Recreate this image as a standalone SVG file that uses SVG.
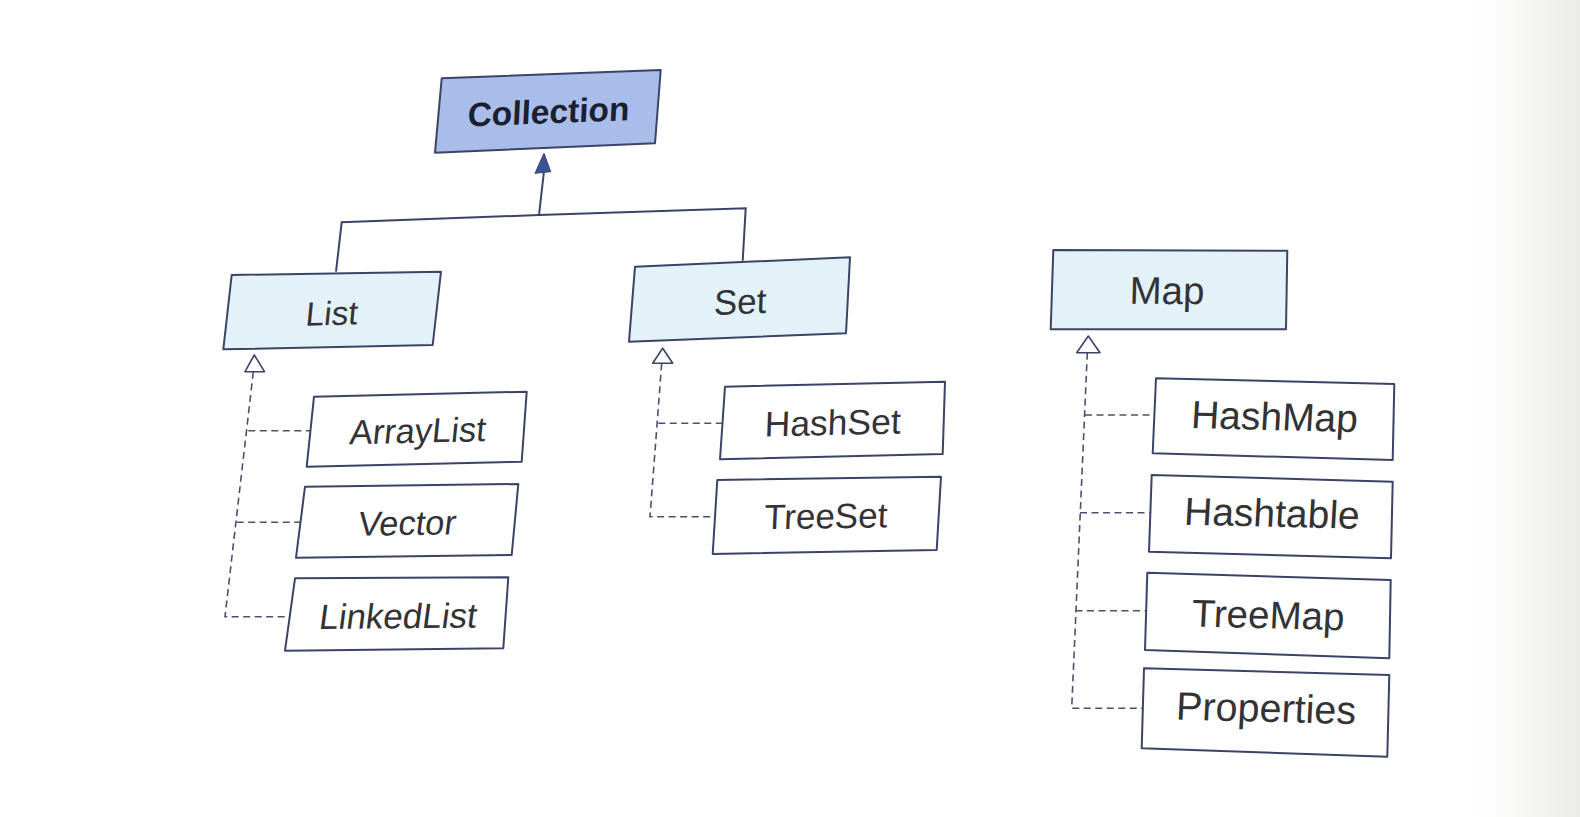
<svg xmlns="http://www.w3.org/2000/svg" width="1580" height="817" viewBox="0 0 1580 817">
<defs>
<linearGradient id="edge" x1="0" y1="0" x2="1" y2="0">
<stop offset="0" stop-color="#ffffff" stop-opacity="0"/>
<stop offset="0.5" stop-color="#f7f7f5" stop-opacity="1"/>
<stop offset="1" stop-color="#ebebe8" stop-opacity="1"/>
</linearGradient>
<style>
.box{stroke:#3b4466;stroke-width:2;stroke-linejoin:round}
.top{fill:#a9bdea}
.iface{fill:#e3f2f8}
.cls{fill:#ffffff}
.t{font-family:"Liberation Sans",Arial,Helvetica,sans-serif;fill:#333336;text-anchor:middle}
.tb{font-family:"Liberation Sans",Arial,Helvetica,sans-serif;fill:#1b2030;text-anchor:middle;font-weight:bold}
.solid{fill:none;stroke:#3b4466;stroke-width:2}
.dash{fill:none;stroke:#4a5170;stroke-width:1.6;stroke-dasharray:7 4.5}
.hollow{fill:#ffffff;stroke:#3b4466;stroke-width:1.6;stroke-linejoin:round}
.filled{fill:#3a5199;stroke:#3b4466;stroke-width:1}
</style>
</defs>
<rect width="1580" height="817" fill="#ffffff"/>
<rect x="1460" y="0" width="120" height="817" fill="url(#edge)"/>

<g id="connectors">
<polyline class="solid" points="336,271.7 341.7,222.3 539,215 745.7,208.3 742.7,260.7"/>
<line class="solid" x1="539" y1="215" x2="544" y2="171"/>
<polygon class="filled" points="544,153.3 535,173.3 550.7,171.7"/>
<polyline class="dash" points="253.3,372 225,616.7 288,616.7"/>
<line class="dash" x1="248.3" y1="430.7" x2="310" y2="430.7"/>
<line class="dash" x1="236.7" y1="522.3" x2="300" y2="522.3"/>
<polygon class="hollow" points="254.3,355 245,371.7 264.5,371.7"/>
<polyline class="dash" points="661.7,363.3 650,516.7 715,516.7"/>
<line class="dash" x1="658.3" y1="423.3" x2="721.7" y2="423.3"/>
<polygon class="hollow" points="662.7,348.3 652.7,363.3 672.7,363.3"/>
<polyline class="dash" points="1087.3,352.7 1071.7,708.3 1142,708.3"/>
<line class="dash" x1="1085" y1="415" x2="1155" y2="415"/>
<line class="dash" x1="1080" y1="512.7" x2="1150" y2="512.7"/>
<line class="dash" x1="1075.5" y1="610.7" x2="1147" y2="610.7"/>
<polygon class="hollow" points="1088.3,336 1076.7,352.7 1100,352.7"/>
</g>

<g id="node-collection">
<polygon class="box top" points="441.7,78.3 660.7,70 655,143.3 435,152.7"/>
<text class="tb" font-size="33.5" transform="translate(548,123.3) rotate(-2.2) skewX(-5)">Collection</text>
</g>

<g id="node-list">
<polygon class="box iface" points="231.7,275 441,271.7 432.7,345 223.3,349.3"/>
<text class="t" font-size="33.5" transform="translate(330.8,325) rotate(-1.4) skewX(-7)">List</text>
</g>
<g id="node-arraylist">
<polygon class="box cls" points="314,396.7 526.7,391.7 521.7,461.7 306.7,466.7"/>
<text class="t" font-size="34.5" transform="translate(416.7,442.7) rotate(-1.3) skewX(-7)">ArrayList</text>
</g>
<g id="node-vector">
<polygon class="box cls" points="305,486.7 518.3,484 511.7,555 296,557.7"/>
<text class="t" font-size="34.5" transform="translate(405.8,535) rotate(-0.8) skewX(-8)">Vector</text>
</g>
<g id="node-linkedlist">
<polygon class="box cls" points="295,578.3 508.3,577.3 503.3,648.3 285,650.7"/>
<text class="t" font-size="35" transform="translate(396.7,628.3) rotate(-0.5) skewX(-8)">LinkedList</text>
</g>

<g id="node-set">
<polygon class="box iface" points="635,266.7 850,257.3 846,333.3 629,341.7"/>
<text class="t" font-size="35" transform="translate(739.7,314) rotate(-2.3) skewX(-4.5)">Set</text>
</g>
<g id="node-hashset">
<polygon class="box cls" points="725,386.7 945,381.7 942.7,454 720,459.3"/>
<text class="t" font-size="35.5" transform="translate(832.3,435) rotate(-1.3) skewX(-3.5)">HashSet</text>
</g>
<g id="node-treeset">
<polygon class="box cls" points="717.3,480 941,476.7 936.7,550 712.7,554"/>
<text class="t" font-size="35" transform="translate(825.3,528.3) rotate(-1) skewX(-3.5)">TreeSet</text>
</g>

<g id="node-map">
<polygon class="box iface" points="1053.3,250 1287.3,250.7 1286,329.3 1050.7,329.3"/>
<text class="t" font-size="38.5" transform="translate(1166.7,304) rotate(0.2) skewX(-1.5)">Map</text>
</g>
<g id="node-hashmap">
<polygon class="box cls" points="1156,378.3 1394.3,384 1392.7,460 1152.7,453.3"/>
<text class="t" font-size="39" transform="translate(1273.8,430) rotate(1.4) skewX(-2)">HashMap</text>
</g>
<g id="node-hashtable">
<polygon class="box cls" points="1151.7,475 1392.7,481.7 1391,558.3 1149,551.7"/>
<text class="t" font-size="39" transform="translate(1271.3,526.7) rotate(1.3) skewX(-2)">Hashtable</text>
</g>
<g id="node-treemap">
<polygon class="box cls" points="1147.3,572.7 1390.7,580 1389.3,658.3 1145,650"/>
<text class="t" font-size="38.5" transform="translate(1267.5,628.3) rotate(1.4) skewX(-1.5)">TreeMap</text>
</g>
<g id="node-properties">
<polygon class="box cls" points="1144,668.3 1389.3,675 1387.3,756.7 1141.7,748.3"/>
<text class="t" font-size="39.5" transform="translate(1265.5,721.7) rotate(1.4) skewX(-1.5)">Properties</text>
</g>
</svg>
